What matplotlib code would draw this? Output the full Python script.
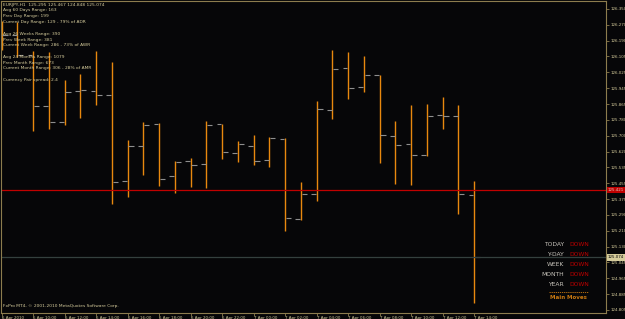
import numpy as np
import matplotlib.pyplot as plt
import matplotlib.transforms as mtransforms

# EURJPY H1 bars, 6 Apr 08:00 .. 7 Apr 14:00
opens = [126.191, 126.216, 126.114, 125.852, 125.770, 125.929, 125.929, 125.908,
         125.467, 125.647, 125.760, 125.493, 125.570, 125.554, 125.760, 125.611,
         125.647, 125.575, 125.683, 125.272, 125.400, 125.831, 126.047, 125.949,
         126.011, 125.698, 125.657, 125.600, 125.806, 125.801, 125.395]
highs = [126.288, 126.283, 126.134, 126.129, 125.985, 126.016, 126.134, 126.078,
         125.677, 125.770, 125.765, 125.570, 125.585, 125.775, 125.760, 125.672,
         125.703, 125.693, 125.688, 125.462, 125.878, 126.139, 126.129, 126.109,
         126.011, 125.775, 125.857, 125.862, 125.898, 125.857, 125.467]
lows = [126.139, 126.103, 125.724, 125.734, 125.754, 125.790, 125.857, 125.349,
        125.385, 125.498, 125.441, 125.405, 125.437, 125.431, 125.580, 125.565,
        125.549, 125.539, 125.210, 125.267, 125.364, 125.785, 125.888, 125.924,
        125.559, 125.452, 125.446, 125.595, 125.734, 125.298, 124.842]
closes = [126.216, 126.114, 125.852, 125.770, 125.924, 125.934, 125.908, 125.462,
          125.647, 125.754, 125.477, 125.565, 125.549, 125.754, 125.616, 125.657,
          125.570, 125.688, 125.277, 125.400, 125.837, 126.042, 125.944, 126.011,
          125.703, 125.652, 125.600, 125.801, 125.801, 125.400, 125.074]

x_labels = ["6 Apr 2010", "6 Apr 10:00", "6 Apr 12:00", "6 Apr 14:00", "6 Apr 16:00",
            "6 Apr 18:00", "6 Apr 20:00", "6 Apr 22:00", "7 Apr 00:00", "7 Apr 02:00",
            "7 Apr 04:00", "7 Apr 06:00", "7 Apr 08:00", "7 Apr 10:00", "7 Apr 12:00",
            "7 Apr 14:00"]
y_labels = ["124.805", "124.885", "124.965", "125.045", "125.130", "125.210", "125.290",
            "125.375", "125.455", "125.535", "125.620", "125.700", "125.780", "125.865",
            "125.945", "126.025", "126.105", "126.190", "126.270", "126.350"]

red_level = 125.421
bid_level = 125.074

info_lines = ["EURJPY,H1  125.295 125.467 124.848 125.074",
              "Avg 60 Days Range: 163",
              "Prev Day Range: 199",
              "Current Day Range: 129 - 79% of ADR",
              "",
              "Avg 26 Weeks Range: 390",
              "Prev Week Range: 381",
              "Current Week Range: 286 - 73% of AWR",
              "",
              "Avg 24 Months Range: 1079",
              "Prev Month Range: 673",
              "Current Month Range: 306 - 28% of AMR",
              "",
              "Currency Pair spread: 2.4"]

moves = ["TODAY", "Y-DAY", "WEEK", "MONTH", "YEAR"]
move_dirs = ["DOWN", "DOWN", "DOWN", "DOWN", "DOWN"]

# colours
bg = "#060608"
gold = "#8c7c4e"
khaki = "#d6cc9c"
bar_col = "#e8880e"
tick_col = "#8e8e8e"

W, H = 625, 319
fig = plt.figure(figsize=(W / 100, H / 100), dpi=100, facecolor=bg)
ax = fig.add_axes([1.5 / W, 6 / H, 604.5 / W, 312 / H], facecolor=bg)

idx = np.arange(len(opens))
ax.vlines(idx, lows, highs, color=bar_col, lw=1.0)
ax.hlines(opens, idx - 0.36, idx - 0.05, color=tick_col, lw=0.8)
ax.hlines(closes, idx + 0.05, idx + 0.38, color=tick_col, lw=0.8)

ax.axhline(red_level, color="#c00000", lw=0.9)
ax.axhline(bid_level, color="#34403e", lw=0.9)

ax.set_xlim(-0.013, 38.37)
ax.set_ylim(124.789, 126.391)

for s in ax.spines.values():
    s.set_color(gold)
    s.set_linewidth(0.8)

ax.set_xticks(idx[::2])
ax.set_xticklabels(x_labels, fontsize=2.9, color=khaki)
offset = mtransforms.ScaledTranslation(1.2 / 72, 0, fig.dpi_scale_trans)
for lab in ax.get_xticklabels():
    lab.set_horizontalalignment("left")
    lab.set_transform(lab.get_transform() + offset)
ax.tick_params(axis="x", direction="out", length=2, width=0.6, color=gold, pad=0.5)

ax.yaxis.tick_right()
ax.set_yticks(np.linspace(124.805, 126.350, len(y_labels)))
ax.set_yticklabels(y_labels, fontsize=2.9, color=khaki)
ax.tick_params(axis="y", direction="out", length=2, width=0.6, color=gold, pad=1)

# price labels on the axis
ytr = ax.get_yaxis_transform()
ax.text(1.003, red_level, "125.421", transform=ytr, fontsize=2.9, color="#e0c8c0",
        va="center", ha="left", clip_on=False,
        bbox=dict(facecolor="#c00000", edgecolor="none", pad=0.8))
ax.text(1.003, bid_level, "125.074", transform=ytr, fontsize=2.9, color="#000000",
        va="center", ha="left", clip_on=False,
        bbox=dict(facecolor=khaki, edgecolor="none", pad=0.8))

# info block top left
for i, line in enumerate(info_lines):
    fig.text(3 / W, 1 - (4.7 + i * 5.8) / H, line, fontsize=3.2, color=khaki,
             va="center", ha="left")

fig.text(3 / W, 1 - 305.7 / H, "FxPro MT4, \u00a9 2001-2010 MetaQuotes Software Corp.",
         fontsize=3.2, color=khaki, va="center", ha="left")

# main moves panel
for i, (m, d) in enumerate(zip(moves, move_dirs)):
    yy = 1 - (245 + i * 9.9) / H
    fig.text(564 / W, yy, m, fontsize=4.3, color="#c8c4bc", va="center", ha="right")
    fig.text(569 / W, yy, d, fontsize=4.3, color="#c00000", va="center", ha="left")
fig.add_artist(plt.Line2D([549 / W, 588 / W], [1 - 292 / H, 1 - 292 / H],
                          transform=fig.transFigure, color="#c87810", lw=0.6, ls=(0, (1.5, 1))))
fig.text(568 / W, 1 - 297.5 / H, "Main Moves", fontsize=4.0, color="#c87810",
         va="center", ha="center", fontweight="bold")

fig.savefig("out.png", dpi=100, facecolor=bg)
